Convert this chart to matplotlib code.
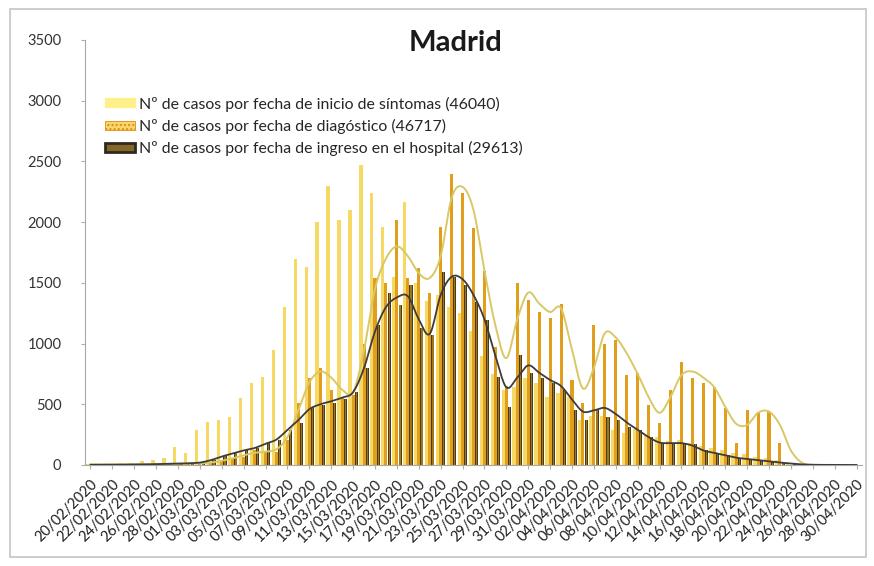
import numpy as np
import pandas as pd
import matplotlib
matplotlib.use("Agg")
import matplotlib.pyplot as plt
from matplotlib.patches import Patch, Rectangle

# ---------------- data ----------------
dates = pd.date_range("2020-02-20", "2020-04-30").strftime("%d/%m/%Y").tolist()

sintomas = [5, 10, 8, 15, 20, 30, 45, 60, 150, 100,
            290, 355, 370, 395, 550, 675, 725, 950, 1300, 1700,
            1630, 2000, 2300, 2020, 2100, 2470, 2240, 1960, 1550, 2170,
            1500, 1350, 1400, 1300, 1250, 1100, 900, 750, 620, 640,
            715, 675, 560, 590, 560, 370, 400, 400, 290, 260,
            300, 250, 230, 200, 210, 180, 160, 140, 120, 100,
            90, 70, 60, 40, 25, 10, 5, 0, 0, 0, 0]

diagnostico = [0, 0, 1, 2, 0, 3, 5, 5, 10, 12,
               15, 20, 30, 60, 70, 125, 110, 110, 205, 510,
               715, 800, 620, 560, 575, 1000, 1540, 1500, 2020, 1540,
               1620, 1420, 1960, 2400, 2240, 1950, 1600, 970, 650, 1500,
               1360, 1260, 1210, 1330, 700, 510, 1150, 1000, 1030, 740,
               755, 495, 345, 620, 850, 715, 675, 645, 470, 180,
               455, 440, 440, 180, 0, 0, 0, 0, 0, 0, 0]

hospital = [2, 1, 3, 2, 3, 5, 8, 10, 10, 15,
            20, 40, 75, 100, 125, 140, 180, 205, 290, 345,
            480, 495, 510, 545, 600, 800, 1150, 1420, 1320, 1480,
            1130, 1070, 1590, 1550, 1480, 1345, 1195, 725, 480, 905,
            760, 715, 675, 620, 450, 370, 450, 395, 370, 315,
            290, 230, 180, 170, 180, 170, 120, 100, 80, 60,
            50, 40, 30, 20, 10, 5, 2, 1, 0, 0, 0]

# smoothed curves drawn over the bars
linea_diagnostico = [5, 5, 5, 5, 5, 6, 8, 10, 12, 14,
                     15, 20, 35, 55, 80, 100, 110, 130, 230, 450,
                     680, 770, 720, 620, 600, 950, 1450, 1700, 1800, 1720,
                     1580, 1540, 1720, 2200, 2290, 2100, 1600, 1150, 880, 1200,
                     1420, 1330, 1260, 1290, 950, 630, 800, 1085, 1050, 920,
                     750, 560, 430, 560, 740, 770, 720, 640, 480, 340,
                     330, 430, 440, 330, 120, 20, 0, 0, 0, 0, 0]

linea_hospital = [2, 2, 2, 3, 3, 5, 7, 9, 11, 14,
                  20, 40, 70, 95, 120, 140, 175, 210, 290, 370,
                  460, 500, 525, 555, 600, 800, 1100, 1300, 1380, 1390,
                  1200, 1080, 1400, 1550, 1530, 1400, 1200, 900, 640, 720,
                  820, 760, 700, 650, 540, 440, 450, 470, 420, 350,
                  290, 230, 185, 180, 180, 160, 120, 100, 80, 60,
                  50, 40, 30, 20, 12, 5, 2, 1, 0, 0, 0]

labels = ["Nº de casos por fecha de inicio de síntomas (46040)",
          "Nº de casos por fecha de diagóstico (46717)",
          "Nº de casos por fecha de ingreso en el hospital (29613)"]
title = "Madrid"
yticks = [0, 500, 1000, 1500, 2000, 2500, 3000, 3500]


def smooth(xs, ys, n=12):
    """Catmull-Rom rendering of a polyline (visual smoothing only)."""
    xs = np.asarray(xs, float)
    ys = np.asarray(ys, float)
    P = np.column_stack([xs, ys])
    P = np.vstack([P[0], P, P[-1]])
    out = []
    t = np.linspace(0, 1, n, endpoint=False)[:, None]
    for i in range(1, len(P) - 2):
        p0, p1, p2, p3 = P[i - 1], P[i], P[i + 1], P[i + 2]
        seg = 0.5 * ((2 * p1) + (-p0 + p2) * t + (2 * p0 - 5 * p1 + 4 * p2 - p3) * t ** 2
                     + (-p0 + 3 * p1 - 3 * p2 + p3) * t ** 3)
        out.append(seg)
    out.append(P[-2][None, :])
    out = np.vstack(out)
    return out[:, 0], np.clip(out[:, 1], 0, None)


plt.rcParams["font.family"] = ["Lato", "DejaVu Sans"]

fig = plt.figure(figsize=(8.74, 5.66), dpi=100)
ax = fig.add_axes([85 / 874, 1 - 465 / 566, 777 / 874, 425 / 566])

x = np.arange(len(dates))
ax.bar(x - 0.29, sintomas, width=0.30, color="#F6D865", edgecolor="none", zorder=2)
ax.bar(x, diagnostico, width=0.28, color="#E19E1C", edgecolor="none", zorder=2)
ax.bar(x + 0.29, hospital, width=0.28, color="#4A3A16", edgecolor="none", zorder=2)
ax.bar(x + 0.29, hospital, width=0.11, color="#9C7621", edgecolor="none", zorder=2.1)

sx, sy = smooth(x, linea_diagnostico)
ax.plot(sx, sy, color="#D8C866", lw=1.4, zorder=3)
hx, hy = smooth(x, linea_hospital)
ax.plot(hx, hy, color="#3C3C3C", lw=1.3, zorder=3.1)

ax.set_xlim(-0.5, len(dates) - 0.5)
ax.set_ylim(0, 3500)
ax.set_yticks(yticks)
ax.set_yticklabels([str(v) for v in yticks], fontsize=10.5, color="#333333")
ax.set_xticks(x[::2])
ax.set_xticklabels(dates[::2], rotation=45, ha="right", rotation_mode="anchor",
                   fontsize=10.5, color="#1e1e1e")
ax.tick_params(axis="x", length=3, color="#B0B0B0", pad=6)
ax.tick_params(axis="y", length=3, color="#B0B0B0", pad=14)

for s in ["top", "right"]:
    ax.spines[s].set_visible(False)
ax.spines["left"].set_color("#A8A8A8")
ax.spines["bottom"].set_color("#A8A8A8")

fig.text(455 / 874, 1 - 43 / 566, title, fontsize=21, fontweight="bold",
         color="#1a1a1a", ha="center", va="center")

handles = [Patch(facecolor="#FFF08C", edgecolor="#FFF08C"),
           Patch(facecolor="#F6D66E", edgecolor="#E48C0A", hatch="....", linewidth=0.6),
           Patch(facecolor="#85662A", edgecolor="#2F2A1C", linewidth=2)]
leg = ax.legend(handles, labels, loc="upper left", bbox_to_anchor=(0.018, 0.882),
                frameon=False, fontsize=11.4, handlelength=1.9, handleheight=0.5,
                handletextpad=0.2, labelspacing=0.45, borderaxespad=0)
for t in leg.get_texts():
    t.set_color("#262626")

fig.patches.append(Rectangle((10 / 874, 9 / 566), 856 / 874, 548 / 566,
                             transform=fig.transFigure, fill=False,
                             edgecolor="#C4C4C4", linewidth=1.2))

fig.savefig("out.png", dpi=100)
